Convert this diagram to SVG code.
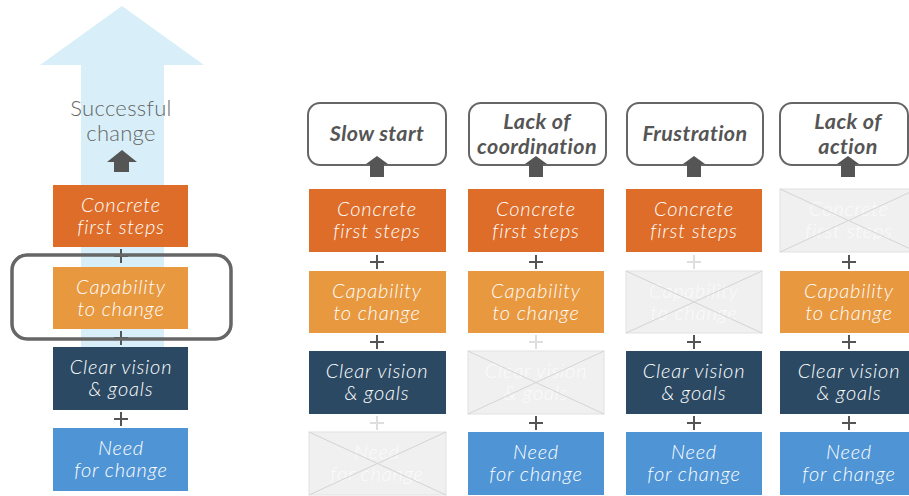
<svg xmlns="http://www.w3.org/2000/svg" width="909" height="496" viewBox="0 0 909 496">
  <defs>
    <style>
      .lbl { font-family: Lato, "Open Sans", "Liberation Sans", sans-serif; font-style: italic; font-weight: 300; font-size: 20px; letter-spacing: 0.8px; fill: #ffffff; text-anchor: middle; }
      .lbl-off { fill: #fbfbfb; }
      .c1 { fill: #dd6d28; }
      .c2 { fill: #e8983f; }
      .c3 { fill: #2b4963; }
      .c4 { fill: #4f94d5; }
      .off { fill: #f0f0f0; stroke: #e2e2e2; stroke-width: 1; }
      .x { stroke: #d4d4d4; stroke-width: 1; }
      .plus { stroke: #555555; stroke-width: 2; }
      .plus-off { stroke: #dedede; stroke-width: 2; }
      .call { fill: #ffffff; stroke: #666666; stroke-width: 2; }
      .ctxt { font-family: Lato, "Open Sans", "Liberation Sans", sans-serif; font-style: italic; font-weight: bold; font-size: 21.5px; letter-spacing: 0.4px; fill: #555555; text-anchor: middle; }
      .up { fill: #555555; }
      .head { font-family: Lato, "Open Sans", "Liberation Sans", sans-serif; font-weight: 300; font-size: 22px; letter-spacing: 0.3px; fill: #666666; text-anchor: middle; }
    </style>
    <path id="plus" d="M-7,0 H7 M0,-7 V7"/>
  </defs>

  <!-- left: the full model -->
  <g id="model">
    <polygon points="40,65 122,6 204,65 164,65 164,347 81,347 81,65" fill="#d8eff9"/>
    <text class="head" x="121" y="116">Successful</text>
    <text class="head" x="121" y="141">change</text>
    <polygon class="up" points="107,162 122,150 137,162 129,162 129,172 114,172 114,162"/>
  </g>

  <g id="connectors">
    <!-- left column -->
    <use href="#plus" x="121" y="256" class="plus"/>
    <use href="#plus" x="121" y="338" class="plus"/>
    <use href="#plus" x="121" y="419" class="plus"/>
    <!-- slow start -->
    <use href="#plus" x="377" y="262" class="plus"/>
    <use href="#plus" x="377" y="342" class="plus"/>
    <use href="#plus" x="377" y="423" class="plus-off"/>
    <!-- lack of coordination -->
    <use href="#plus" x="536" y="262" class="plus"/>
    <use href="#plus" x="536" y="342" class="plus-off"/>
    <use href="#plus" x="536" y="423" class="plus"/>
    <!-- frustration -->
    <use href="#plus" x="694" y="262" class="plus-off"/>
    <use href="#plus" x="694" y="342" class="plus"/>
    <use href="#plus" x="694" y="423" class="plus"/>
    <!-- lack of action -->
    <use href="#plus" x="849" y="262" class="plus"/>
    <use href="#plus" x="849" y="342" class="plus"/>
    <use href="#plus" x="849" y="423" class="plus"/>
  </g>

  <!-- left column boxes -->
  <g id="l-concrete">
    <rect class="c1" x="53" y="185" width="135" height="62"/>
    <text class="lbl" x="121" y="212">Concrete</text>
    <text class="lbl" x="121" y="234">first steps</text>
  </g>
  <g id="l-capability">
    <rect class="c2" x="53" y="267" width="135" height="62"/>
    <text class="lbl" x="121" y="294">Capability</text>
    <text class="lbl" x="121" y="316">to change</text>
  </g>
  <g id="l-vision">
    <rect class="c3" x="53" y="347" width="135" height="63"/>
    <text class="lbl" x="121" y="374">Clear vision</text>
    <text class="lbl" x="121" y="396">&amp; goals</text>
  </g>
  <g id="l-need">
    <rect class="c4" x="53" y="428" width="135" height="63"/>
    <text class="lbl" x="121" y="455">Need</text>
    <text class="lbl" x="121" y="477">for change</text>
  </g>
  <g id="highlight">
    <rect x="12" y="255" width="219" height="84" rx="15" fill="none" stroke="#666666" stroke-width="3.5"/>
  </g>

  <!-- column: slow start -->
  <g id="slow-start">
    <rect class="call" x="308" y="103" width="138" height="62" rx="12"/>
    <text class="ctxt" x="377" y="141">Slow start</text>
    <polygon class="up" points="366,164 377,156 388,164 384,164 384,177 370,177 370,164"/>
  </g>
  <g id="s-concrete">
    <rect class="c1" x="309" y="189" width="137" height="63"/>
    <text class="lbl" x="377" y="216">Concrete</text>
    <text class="lbl" x="377" y="238">first steps</text>
  </g>
  <g id="s-capability">
    <rect class="c2" x="309" y="271" width="137" height="62"/>
    <text class="lbl" x="377" y="298">Capability</text>
    <text class="lbl" x="377" y="320">to change</text>
  </g>
  <g id="s-vision">
    <rect class="c3" x="309" y="351" width="137" height="63"/>
    <text class="lbl" x="377" y="378">Clear vision</text>
    <text class="lbl" x="377" y="400">&amp; goals</text>
  </g>
  <g id="s-need">
    <rect class="off" x="309" y="432" width="137" height="63"/>
    <text class="lbl lbl-off" x="377" y="459">Need</text>
    <text class="lbl lbl-off" x="377" y="481">for change</text>
    <path class="x" d="M309,432 L446,495 M446,432 L309,495"/>
  </g>

  <!-- column: lack of coordination -->
  <g id="lack-coordination">
    <rect class="call" x="469" y="103" width="137" height="62" rx="12"/>
    <text class="ctxt" x="537" y="129">Lack of</text>
    <text class="ctxt" x="537" y="154">coordination</text>
    <polygon class="up" points="525,164 536,156 547,164 543,164 543,177 529,177 529,164"/>
  </g>
  <g id="c-concrete">
    <rect class="c1" x="468" y="189" width="136" height="63"/>
    <text class="lbl" x="536" y="216">Concrete</text>
    <text class="lbl" x="536" y="238">first steps</text>
  </g>
  <g id="c-capability">
    <rect class="c2" x="468" y="271" width="136" height="62"/>
    <text class="lbl" x="536" y="298">Capability</text>
    <text class="lbl" x="536" y="320">to change</text>
  </g>
  <g id="c-vision">
    <rect class="off" x="468" y="351" width="136" height="63"/>
    <text class="lbl lbl-off" x="536" y="378">Clear vision</text>
    <text class="lbl lbl-off" x="536" y="400">&amp; goals</text>
    <path class="x" d="M468,351 L604,414 M604,351 L468,414"/>
  </g>
  <g id="c-need">
    <rect class="c4" x="468" y="432" width="136" height="63"/>
    <text class="lbl" x="536" y="459">Need</text>
    <text class="lbl" x="536" y="481">for change</text>
  </g>

  <!-- column: frustration -->
  <g id="frustration">
    <rect class="call" x="627" y="103" width="136" height="62" rx="12"/>
    <text class="ctxt" x="695" y="141">Frustration</text>
    <polygon class="up" points="683,164 694,156 705,164 701,164 701,177 687,177 687,164"/>
  </g>
  <g id="f-concrete">
    <rect class="c1" x="626" y="189" width="136" height="63"/>
    <text class="lbl" x="694" y="216">Concrete</text>
    <text class="lbl" x="694" y="238">first steps</text>
  </g>
  <g id="f-capability">
    <rect class="off" x="626" y="271" width="136" height="62"/>
    <text class="lbl lbl-off" x="694" y="298">Capability</text>
    <text class="lbl lbl-off" x="694" y="320">to change</text>
    <path class="x" d="M626,271 L762,333 M762,271 L626,333"/>
  </g>
  <g id="f-vision">
    <rect class="c3" x="626" y="351" width="136" height="63"/>
    <text class="lbl" x="694" y="378">Clear vision</text>
    <text class="lbl" x="694" y="400">&amp; goals</text>
  </g>
  <g id="f-need">
    <rect class="c4" x="626" y="432" width="136" height="63"/>
    <text class="lbl" x="694" y="459">Need</text>
    <text class="lbl" x="694" y="481">for change</text>
  </g>

  <!-- column: lack of action -->
  <g id="lack-action">
    <rect class="call" x="780" y="103" width="128" height="62" rx="12"/>
    <text class="ctxt" x="848" y="129">Lack of</text>
    <text class="ctxt" x="848" y="154">action</text>
    <polygon class="up" points="837,164 848,156 859,164 855,164 855,177 841,177 841,164"/>
  </g>
  <g id="a-concrete">
    <rect class="off" x="780" y="189" width="137" height="63"/>
    <text class="lbl lbl-off" x="849" y="216">Concrete</text>
    <text class="lbl lbl-off" x="849" y="238">first steps</text>
    <path class="x" d="M780,189 L917,252 M917,189 L780,252"/>
  </g>
  <g id="a-capability">
    <rect class="c2" x="780" y="271" width="137" height="62"/>
    <text class="lbl" x="849" y="298">Capability</text>
    <text class="lbl" x="849" y="320">to change</text>
  </g>
  <g id="a-vision">
    <rect class="c3" x="780" y="351" width="137" height="63"/>
    <text class="lbl" x="849" y="378">Clear vision</text>
    <text class="lbl" x="849" y="400">&amp; goals</text>
  </g>
  <g id="a-need">
    <rect class="c4" x="780" y="432" width="137" height="63"/>
    <text class="lbl" x="849" y="459">Need</text>
    <text class="lbl" x="849" y="481">for change</text>
  </g>
</svg>
